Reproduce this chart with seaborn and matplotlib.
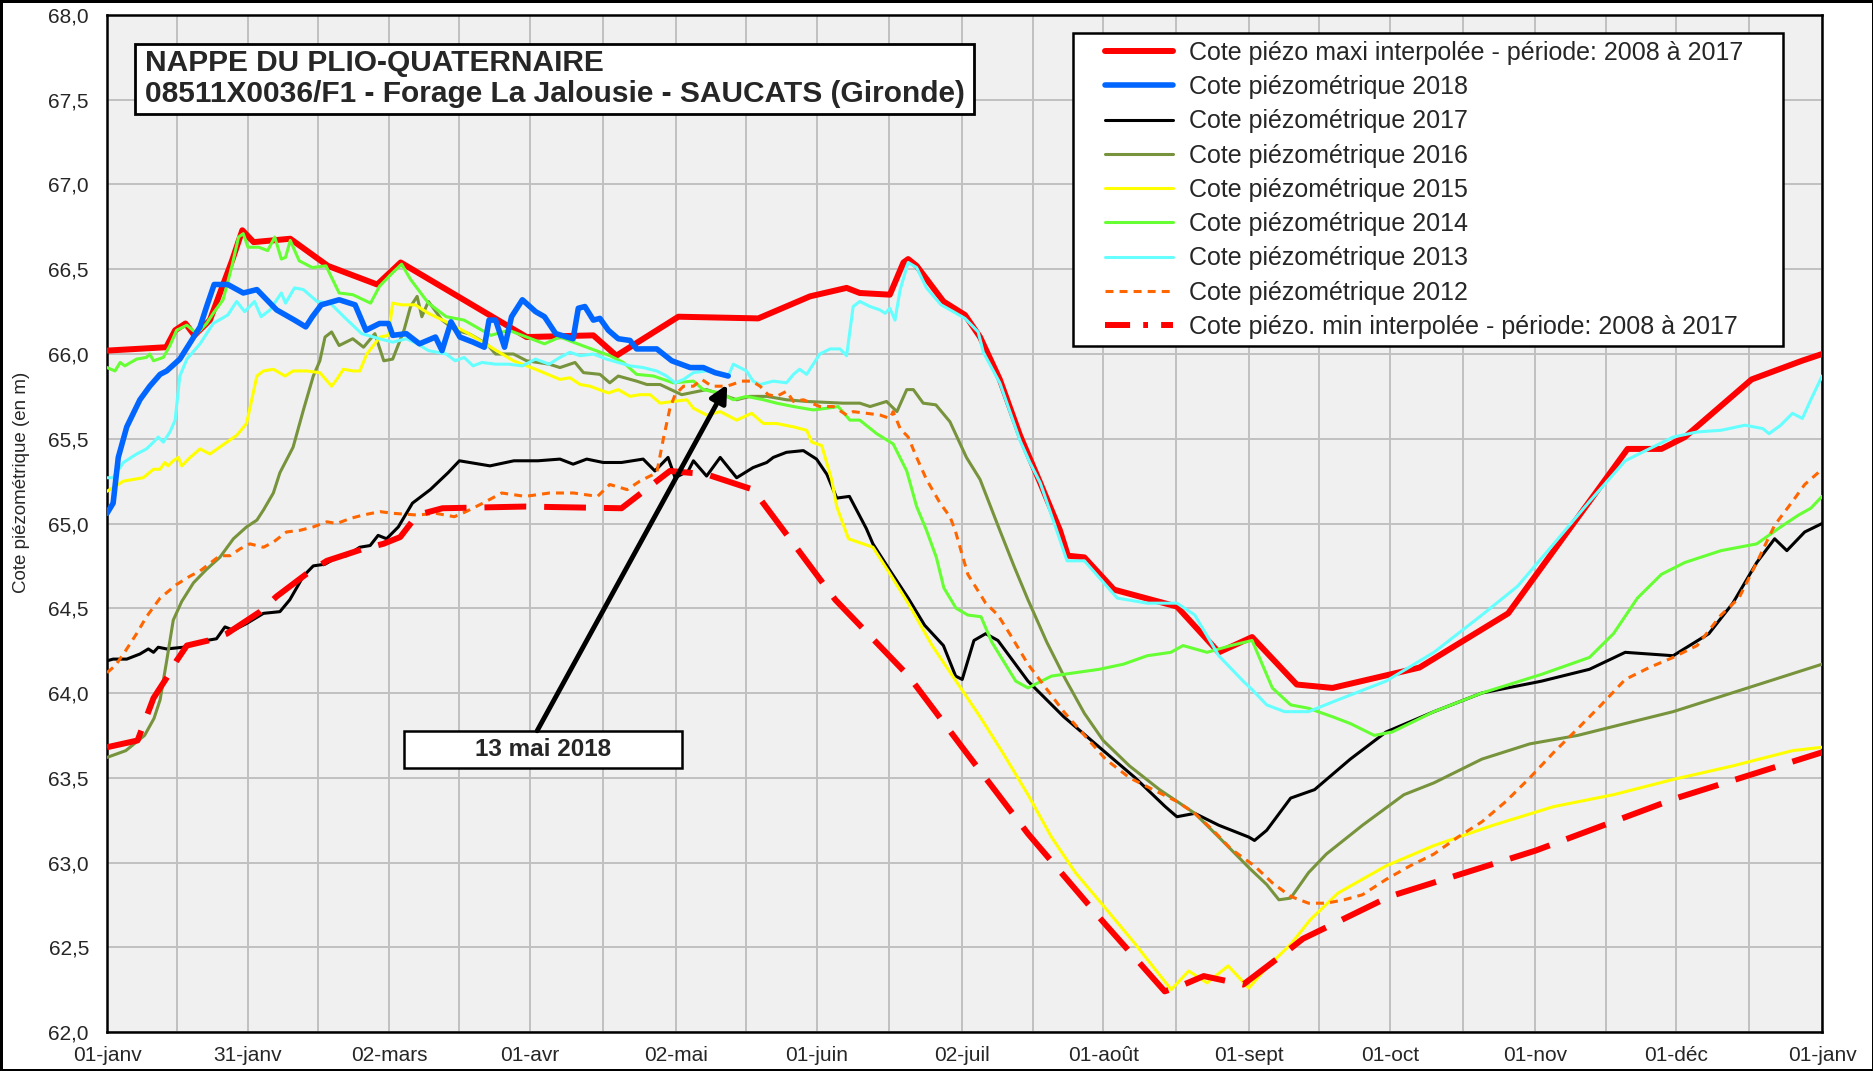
import matplotlib
matplotlib.use("Agg")
import matplotlib.pyplot as plt
from matplotlib.patches import Rectangle
from matplotlib.lines import Line2D
from matplotlib.legend_handler import HandlerLine2D
from matplotlib.ticker import FixedLocator, MultipleLocator, FuncFormatter
import seaborn as sns

# x = day of year (0 = 01-janv), y = cote piezometrique (m)
max_days = [0, 12.6, 14.5, 16.7, 18.6, 21.9, 26.6, 28.8, 31.2, 39, 47, 57.5, 62.5, 89.3, 103.5, 108.4,
            121.6, 138.6, 149.6, 157.4, 160.2, 166.6, 169.5, 170.5, 172.3, 178, 182.6, 185.8, 190,
            194.3, 198.6, 202.8, 204.5, 208, 214.3, 227.7, 236.6, 243.7, 253.2, 260.8, 279.3, 298.2,
            323.6, 330.8, 335.8, 350, 360.7, 365]
max_vals = [66.02, 66.04, 66.14, 66.18, 66.11, 66.20, 66.55, 66.73, 66.66, 66.68, 66.52, 66.41, 66.54,
            66.10, 66.11, 65.99, 66.22, 66.21, 66.34, 66.39, 66.36, 66.35, 66.54, 66.56, 66.52, 66.31,
            66.23, 66.10, 65.85, 65.52, 65.24, 64.96, 64.81, 64.80, 64.61, 64.51, 64.24, 64.33, 64.05,
            64.03, 64.15, 64.47, 65.44, 65.44, 65.51, 65.85, 65.96, 66.00]

y2018_days = [0, 1.3, 2.4, 4.2, 7, 9.1, 11.3, 12.7, 15.5, 18, 19.8, 21.2, 22.8, 25.7, 29, 31.9, 36.1,
              39.9, 42.3, 43.7, 45.6, 49.4, 52.8, 55.1, 58, 59.9, 60.8, 63.7, 66.5, 69.9, 71.3, 73.2,
              75.1, 77.9, 80.3, 81.3, 82.7, 84.6, 86.1, 88.4, 91.2, 93.1, 95.5, 99.2, 100.3, 101.7,
              103.5, 104.9, 106.7, 108.8, 111.3, 112.7, 117, 120.2, 124.1, 126.9, 129.4, 132.2]
y2018_vals = [65.06, 65.12, 65.39, 65.57, 65.73, 65.81, 65.88, 65.90, 65.97, 66.08, 66.16, 66.28, 66.41,
              66.41, 66.36, 66.38, 66.26, 66.20, 66.16, 66.22, 66.29, 66.32, 66.29, 66.14, 66.18, 66.18,
              66.11, 66.12, 66.06, 66.10, 66.02, 66.19, 66.10, 66.07, 66.04, 66.20, 66.20, 66.04, 66.22,
              66.32, 66.25, 66.22, 66.12, 66.09, 66.27, 66.28, 66.20, 66.21, 66.14, 66.09, 66.08, 66.03,
              66.03, 65.96, 65.92, 65.92, 65.89, 65.87]

y2017_days = [0, 1.3, 4.2, 7, 8.8, 9.9, 10.9, 12.7, 16.2, 21.2, 23.3, 25.1, 26.9, 29.7, 33.3, 36.8,
              38.9, 41.8, 43.9, 46.4, 48.9, 51, 53.8, 56, 57.7, 59.5, 62, 65, 68.8, 72.6, 75, 81.5,
              86.6, 91.7, 96.4, 99.2, 102.1, 105.6, 109.5, 114.1, 116.6, 119.4, 120.9, 123.7, 124.8,
              127.6, 130.5, 134, 137.5, 140.4, 141.8, 144.6, 148.2, 151, 153.2, 155.3, 158, 161.6, 163,
              166.7, 170.5, 174, 178, 180.6, 182, 184.5, 187, 189.6, 196, 203.6, 211.2, 218.8, 225.2,
              227.7, 231.5, 236.6, 243, 244.2, 246.8, 251.9, 257, 264.6, 272.2, 282.4, 292.6, 305.3,
              315.5, 323.1, 333.3, 340.9, 346, 351.1, 354.9, 357.5, 361.3, 365]
y2017_vals = [64.19, 64.20, 64.20, 64.23, 64.26, 64.24, 64.27, 64.26, 64.27, 64.31, 64.32, 64.39, 64.37,
              64.41, 64.47, 64.48, 64.55, 64.69, 64.75, 64.76, 64.80, 64.81, 64.86, 64.87, 64.93, 64.91,
              64.98, 65.12, 65.20, 65.30, 65.37, 65.34, 65.37, 65.37, 65.38, 65.35, 65.38, 65.36, 65.36,
              65.38, 65.31, 65.39, 65.27, 65.31, 65.37, 65.28, 65.39, 65.27, 65.33, 65.36, 65.39, 65.42,
              65.43, 65.38, 65.29, 65.15, 65.16, 64.97, 64.88, 64.72, 64.56, 64.40, 64.28, 64.10, 64.08,
              64.31, 64.35, 64.31, 64.07, 63.86, 63.68, 63.50, 63.33, 63.27, 63.29, 63.22, 63.15, 63.13,
              63.19, 63.38, 63.43, 63.61, 63.77, 63.89, 64.00, 64.07, 64.14, 64.24, 64.22, 64.35, 64.53,
              64.77, 64.91, 64.84, 64.95, 65.00]

y2016_days = [0, 4, 8, 10, 11.3, 12.7, 14.1, 15.9, 18.4, 21.2, 24, 26.9, 29.7, 31.9, 33.3, 35.4, 36.8,
              39.6, 41.8, 43.9, 45.3, 46.4, 47.8, 49.4, 52.3, 54.6, 57, 58.9, 60.8, 63.2, 64.6, 66, 67,
              68.4, 71.3, 74.1, 77, 80.8, 82.7, 86.5, 89.3, 94.1, 96.4, 99.6, 101.4, 104.9, 107, 108.8,
              112.7, 114.9, 117.7, 122.3, 127.6, 131.9, 134, 136.8, 140.4, 144.6, 148.9, 156.7, 160.2,
              162.4, 165.9, 168.1, 170.2, 171.6, 173.7, 176.4, 179.4, 182.9, 185.8, 190, 193, 196, 200,
              204, 208, 212, 217.6, 224, 231.5, 236.6, 243, 246.8, 249.4, 251.9, 255.7, 259.5, 267.2,
              276, 282.4, 292.6, 302.8, 313, 323.1, 333.3, 343.5, 353.7, 365]
y2016_vals = [63.62, 63.66, 63.75, 63.85, 63.96, 64.19, 64.43, 64.54, 64.65, 64.73, 64.80, 64.91, 64.98,
              65.02, 65.08, 65.18, 65.30, 65.45, 65.67, 65.87, 65.96, 66.10, 66.13, 66.05, 66.09, 66.04,
              66.12, 65.96, 65.97, 66.14, 66.28, 66.34, 66.22, 66.31, 66.20, 66.14, 66.12, 66.06, 66.00,
              66.00, 65.96, 65.94, 65.92, 65.95, 65.89, 65.88, 65.83, 65.87, 65.84, 65.82, 65.82, 65.76,
              65.79, 65.75, 65.73, 65.75, 65.75, 65.73, 65.72, 65.71, 65.71, 65.69, 65.72, 65.66, 65.79,
              65.79, 65.71, 65.70, 65.60, 65.39, 65.26, 64.96, 64.75, 64.55, 64.30, 64.08, 63.88, 63.72,
              63.57, 63.43, 63.29, 63.15, 62.97, 62.87, 62.78, 62.79, 62.94, 63.05, 63.22, 63.40, 63.47,
              63.61, 63.70, 63.75, 63.82, 63.89, 63.98, 64.07, 64.17]

y2015_days = [0, 3.5, 7.7, 9.9, 11.3, 12.3, 13, 14.1, 15.2, 15.9, 17.7, 19.8, 21.9, 25.5, 27.6, 29.7,
              31.9, 33.3, 35.4, 37.9, 39.6, 42.5, 45.3, 47.8, 48.9, 50.3, 52.4, 53.8, 55.3, 58.1, 59.9,
              60.8, 62.7, 65.6, 68.4, 72.2, 77, 81.7, 86.5, 91.2, 96.4, 98.5, 100.7, 102.8, 106.7, 108.8,
              111.3, 113.4, 115.6, 117.7, 120.5, 123.4, 124.8, 127.6, 130.5, 134, 137.2, 139.7, 142.5,
              146.1, 148.9, 150, 152.1, 154.2, 155.3, 157.8, 163, 166.7, 170.5, 175.6, 180.7, 185.8,
              190.8, 196, 201, 206.1, 212.5, 218.8, 223.9, 226.5, 230.2, 234.1, 238.6, 243, 246.8, 252,
              256, 262, 272.2, 282.4, 295, 307.9, 320.6, 333.3, 346, 358.7, 365]
y2015_vals = [65.19, 65.25, 65.27, 65.32, 65.32, 65.36, 65.34, 65.37, 65.39, 65.34, 65.39, 65.44, 65.41,
              65.48, 65.52, 65.59, 65.87, 65.90, 65.91, 65.87, 65.90, 65.90, 65.89, 65.81, 65.85, 65.91,
              65.90, 65.90, 66.00, 66.10, 66.11, 66.30, 66.29, 66.29, 66.24, 66.19, 66.12, 66.04, 65.96,
              65.91, 65.85, 65.86, 65.82, 65.81, 65.77, 65.79, 65.75, 65.76, 65.76, 65.71, 65.72, 65.73,
              65.68, 65.64, 65.66, 65.61, 65.65, 65.59, 65.59, 65.57, 65.55, 65.48, 65.46, 65.26, 65.10,
              64.91, 64.86, 64.70, 64.53, 64.28, 64.07, 63.86, 63.64, 63.40, 63.15, 62.94, 62.73, 62.52,
              62.34, 62.25, 62.36, 62.29, 62.39, 62.26, 62.38, 62.52, 62.66, 62.82, 62.98, 63.10, 63.22,
              63.33, 63.40, 63.49, 63.57, 63.66, 63.68]

y2014_days = [0, 1.7, 2.8, 3.8, 6.3, 8.4, 9.1, 9.9, 12, 13.4, 14.8, 17, 19.1, 21.2, 22.6, 24.7, 26.6,
              28, 29, 30, 32.3, 34.2, 35.7, 37.1, 38, 39, 40.9, 43.7, 46.6, 49.4, 52.3, 56.1, 58, 60.8,
              62.7, 64.6, 68.4, 72.2, 76, 81.7, 85.5, 89.3, 93.1, 96.4, 99.2, 102.1, 107, 109.9, 112.7,
              116.3, 120.5, 124.8, 126.9, 130.5, 133.3, 136.1, 139.7, 142.5, 146.1, 150.3, 153.2, 155.6,
              158.1, 160.2, 163.8, 167.3, 170.2, 172.3, 174.4, 176.5, 178.1, 180.7, 183.2, 186, 188.3,
              193.4, 196, 201, 206.1, 211.2, 216.3, 221.4, 226.4, 229, 234.1, 239.2, 243.7, 248, 251.9,
              255.7, 260.8, 264.6, 269.7, 273.5, 282.4, 292.6, 305.3, 315.5, 320.6, 325.7, 330.8, 335.8,
              343.5, 351.1, 356.2, 360, 362.6, 365]
y2014_vals = [65.92, 65.90, 65.95, 65.93, 65.97, 65.98, 66.00, 65.96, 65.98, 66.05, 66.14, 66.17, 66.12,
              66.18, 66.24, 66.32, 66.52, 66.69, 66.71, 66.63, 66.63, 66.61, 66.69, 66.56, 66.57, 66.67,
              66.55, 66.51, 66.52, 66.36, 66.35, 66.30, 66.40, 66.48, 66.53, 66.44, 66.30, 66.22, 66.20,
              66.11, 66.14, 66.10, 66.06, 66.10, 66.07, 66.04, 65.99, 65.95, 65.88, 65.87, 65.83, 65.84,
              65.79, 65.77, 65.73, 65.75, 65.73, 65.71, 65.69, 65.67, 65.68, 65.69, 65.61, 65.61, 65.53,
              65.47, 65.31, 65.10, 64.96, 64.80, 64.62, 64.50, 64.46, 64.45, 64.30, 64.07, 64.03, 64.10,
              64.12, 64.14, 64.17, 64.22, 64.24, 64.28, 64.24, 64.28, 64.31, 64.03, 63.93, 63.91, 63.86,
              63.82, 63.75, 63.77, 63.89, 64.00, 64.11, 64.21, 64.35, 64.56, 64.70, 64.77, 64.84, 64.88,
              64.98, 65.05, 65.09, 65.16]

y2013_days = [0, 1.3, 3.5, 6.3, 8.4, 9.9, 10.9, 12, 13.4, 14.5, 15.5, 17, 19.8, 22.6, 25.7, 27.6, 29.3,
              31.4, 32.8, 34.7, 37.1, 38, 39.9, 41.8, 44.7, 47.5, 50.4, 54.2, 58, 60.8, 63.7, 66.1, 68.4,
              72.2, 74.1, 76, 77.9, 79.8, 82.7, 85.5, 88.4, 91.2, 94.1, 96.4, 98.5, 100.7, 103.5, 106.3,
              108.8, 111.3, 114.1, 117, 119.1, 120.9, 122.7, 124.8, 127.6, 130.5, 132.2, 133.3, 134.7,
              136.1, 137.5, 139, 141.8, 144.6, 146.1, 147.4, 148.9, 151.7, 153.9, 156, 157.4, 158.8,
              160.2, 162.4, 164.5, 165.6, 166.6, 167.7, 168.8, 170.5, 172.3, 174.4, 177.5, 180.1, 182.6,
              185.4, 186.5, 190, 194.3, 196.4, 198.6, 202.1, 204.3, 208, 215, 221.4, 227.7, 231.5, 236.6,
              241.8, 243.7, 246.8, 250.6, 255.7, 262, 272.2, 282.4, 292.6, 300.2, 307.9, 315.5, 323.1,
              328.2, 333.3, 338.4, 343.5, 348.6, 352.4, 353.7, 356.2, 358.7, 360.8, 362.6, 365]
y2013_vals = [65.27, 65.27, 65.36, 65.41, 65.44, 65.48, 65.51, 65.48, 65.54, 65.61, 65.87, 65.97, 66.06,
              66.18, 66.23, 66.31, 66.25, 66.31, 66.22, 66.26, 66.36, 66.30, 66.39, 66.38, 66.31, 66.30,
              66.22, 66.12, 66.09, 66.07, 66.09, 66.06, 66.02, 66.00, 65.96, 65.98, 65.93, 65.95, 65.94,
              65.94, 65.93, 65.97, 65.94, 65.98, 66.01, 65.99, 66.00, 65.97, 65.95, 65.93, 65.92, 65.90,
              65.87, 65.83, 65.85, 65.89, 65.90, 65.88, 65.87, 65.94, 65.92, 65.90, 65.84, 65.82, 65.84,
              65.83, 65.88, 65.91, 65.88, 66.00, 66.03, 66.03, 65.99, 66.28, 66.31, 66.28, 66.26, 66.24,
              66.27, 66.20, 66.38, 66.54, 66.51, 66.39, 66.29, 66.25, 66.21, 66.13, 66.01, 65.83, 65.49,
              65.36, 65.24, 64.96, 64.78, 64.78, 64.56, 64.53, 64.53, 64.46, 64.22, 64.07, 64.02, 63.93,
              63.89, 63.89, 63.96, 64.07, 64.24, 64.46, 64.63, 64.88, 65.13, 65.37, 65.44, 65.51, 65.54,
              65.55, 65.58, 65.56, 65.53, 65.58, 65.65, 65.62, 65.73, 65.87]

y2012_days = [0, 1.7, 3.5, 6.3, 8.4, 11.3, 14.8, 17.7, 19.8, 21.2, 24, 26.2, 28.3, 30.4, 33.3, 35.4,
              38.2, 41.1, 43.9, 46.8, 48.9, 51.8, 54.5, 58.1, 60.9, 66, 70, 73.9, 76.4, 80, 84, 89, 94.2,
              99.3, 104.4, 107, 110.7, 113.4, 117, 118.4, 119.8, 120.9, 122.7, 124.8, 126.6, 128.7, 131.9,
              133, 135.1, 137.2, 139, 140.7, 142.5, 144.6, 146.1, 148.2, 151.7, 154.6, 157.4, 158.8,
              161.7, 164.5, 166.6, 167.3, 168.8, 170.5, 172.3, 174.4, 177.3, 179.4, 180.5, 183.2, 187,
              189.6, 192.1, 196, 199.8, 203.6, 207.4, 212.5, 217.6, 222.6, 227.7, 231.5, 235.4, 239.2,
              244.2, 248, 251.9, 255.7, 259.5, 263.3, 267.2, 272.2, 277.3, 282.4, 287.5, 292.6, 297.7,
              302.8, 307.9, 313, 318, 323.1, 328.2, 333.3, 338.4, 343.5, 347.3, 351.1, 354.9, 358.7,
              361.3, 365]
y2012_vals = [64.12, 64.16, 64.23, 64.35, 64.45, 64.56, 64.64, 64.69, 64.72, 64.75, 64.81, 64.81, 64.85,
              64.88, 64.86, 64.89, 64.95, 64.96, 64.98, 65.01, 65.00, 65.03, 65.05, 65.07, 65.06, 65.05,
              65.06, 65.04, 65.07, 65.12, 65.18, 65.16, 65.18, 65.18, 65.16, 65.23, 65.20, 65.25, 65.30,
              65.50, 65.68, 65.76, 65.81, 65.81, 65.85, 65.81, 65.81, 65.82, 65.84, 65.84, 65.81, 65.76,
              65.75, 65.78, 65.72, 65.73, 65.69, 65.69, 65.64, 65.66, 65.65, 65.64, 65.62, 65.66, 65.56,
              65.51, 65.39, 65.26, 65.12, 65.04, 64.96, 64.70, 64.53, 64.46, 64.35, 64.17, 64.03, 63.89,
              63.77, 63.61, 63.50, 63.43, 63.36, 63.29, 63.19, 63.08, 62.98, 62.88, 62.80, 62.76, 62.76,
              62.78, 62.81, 62.90, 62.98, 63.05, 63.15, 63.24, 63.36, 63.50, 63.65, 63.79, 63.93, 64.08,
              64.15, 64.21, 64.28, 64.46, 64.56, 64.77, 64.99, 65.13, 65.23, 65.32]

min_days = [0, 6.5, 9.9, 12.7, 14.8, 17, 21.6, 25.5, 32.6, 36.1, 42.8, 46.8, 54.5, 58.8, 62.4, 66, 71.4,
            89, 109.5, 119.8, 127.6, 137.5, 155, 170.6, 182, 196, 212, 225.1, 228.3, 233.4, 241.8,
            251.3, 254.5, 273, 304, 334, 365]
min_vals = [63.68, 63.72, 63.97, 64.09, 64.19, 64.28, 64.31, 64.35, 64.48, 64.57, 64.71, 64.78, 64.85,
            64.88, 64.92, 65.05, 65.09, 65.10, 65.09, 65.31, 65.29, 65.20, 64.55, 64.10, 63.68, 63.17,
            62.65, 62.24, 62.27, 62.33, 62.28, 62.48, 62.55, 62.80, 63.07, 63.38, 63.65]

tick_days = [0, 30, 60, 90, 121, 151, 182, 212, 243, 273, 304, 334, 365]
tick_labels = ['01-janv', '31-janv', '02-mars', '01-avr', '02-mai', '01-juin', '02-juil',
               '01-août', '01-sept', '01-oct', '01-nov', '01-déc', '01-janv']

labels = ['Cote piézo maxi interpolée - période: 2008 à 2017',
          'Cote piézométrique 2018', 'Cote piézométrique 2017', 'Cote piézométrique 2016',
          'Cote piézométrique 2015', 'Cote piézométrique 2014', 'Cote piézométrique 2013',
          'Cote piézométrique 2012',
          'Cote piézo. min interpolée - période: 2008 à 2017']


class ShiftedLine(HandlerLine2D):
    # legend sample starts a bit right of the box edge, like the original
    def get_xdata(self, legend, xdescent, ydescent, width, height, fontsize):
        xdata, xm = super().get_xdata(legend, xdescent, ydescent, width, height, fontsize)
        x0 = -xdescent
        shift = 0.27 * width
        xdata = [x0 + shift + (x - x0) * (width - shift) / width for x in xdata]
        return xdata, xm


sns.set_style("white")
plt.rcParams['font.family'] = ['Liberation Sans', 'DejaVu Sans']

fig = plt.figure(figsize=(18.74, 10.71), dpi=100)
fig.patch.set_edgecolor('black')
fig.patch.set_linewidth(2.5)
ax = fig.add_axes([0.0571, 0.0364, 0.9152, 0.9496])
ax.set_facecolor('#F0F0F0')

series = [
    (max_days, max_vals, '#FF0000', 4.3, '-'),
    (y2017_days, y2017_vals, 'black', 2.2, '-'),
    (y2016_days, y2016_vals, '#77933C', 2.2, '-'),
    (y2015_days, y2015_vals, '#FFFF00', 2.2, '-'),
    (y2014_days, y2014_vals, '#66FF33', 2.2, '-'),
    (y2013_days, y2013_vals, '#66FFFF', 2.2, '-'),
    (y2012_days, y2012_vals, '#FF6600', 2.2, (0, (2.6, 2.0))),
    (min_days, min_vals, '#FF0000', 4.3, (0, (7, 3))),
    (y2018_days, y2018_vals, '#0066FF', 4.0, '-'),
]
label_of = {0: labels[0], 8: labels[1], 1: labels[2], 2: labels[3], 3: labels[4],
            4: labels[5], 5: labels[6], 6: labels[7], 7: labels[8]}

for i, (d, v, c, lw, ls) in enumerate(series):
    sns.lineplot(x=d, y=v, ax=ax, color=c, linewidth=lw, linestyle=ls,
                 label=label_of[i], zorder=3 + i, estimator=None)

ax.set_xlim(0, 365)
ax.set_ylim(62, 68)

ax.xaxis.set_major_locator(FixedLocator(tick_days))
ax.set_xticklabels(tick_labels)
ax.xaxis.set_minor_locator(FixedLocator([(tick_days[i] + tick_days[i + 1]) / 2 for i in range(12)]))
ax.yaxis.set_major_locator(MultipleLocator(0.5))
ax.yaxis.set_minor_locator(MultipleLocator(0.1))
ax.yaxis.set_major_formatter(FuncFormatter(lambda v, p: f"{v:.1f}".replace('.', ',')))

ax.grid(True, which='major', axis='both', color='#C0C0C0', linewidth=1.4, zorder=0)
ax.grid(True, which='minor', axis='x', color='#C0C0C0', linewidth=1.4, zorder=0)
ax.set_axisbelow(True)

ax.tick_params(axis='x', which='both', direction='out', length=5, width=1.5, labelsize=15, pad=5)
ax.tick_params(axis='y', which='major', direction='out', length=5, width=1.5, labelsize=15, pad=8)
ax.tick_params(axis='y', which='minor', direction='in', length=4, width=1.2)
for s in ax.spines.values():
    s.set_color('black')
    s.set_linewidth(1.8)

ax.set_xlabel('')
ax.set_ylabel('Cote piézométrique (en m)', fontsize=13.5)
ax.yaxis.set_label_coords(-0.045, 0.54)

# title box
ax.add_patch(Rectangle((0.0163, 0.9027), 0.4892, 0.0688, transform=ax.transAxes,
                       fc='white', ec='black', lw=2, zorder=20))
ax.text(0.0222, 0.9375, 'NAPPE DU PLIO-QUATERNAIRE\n08511X0036/F1 - Forage La Jalousie - SAUCATS (Gironde)',
        transform=ax.transAxes, ha='left', va='center', fontsize=21.5, fontweight='bold',
        linespacing=1.17, zorder=21)

# annotation box + arrow
ax.add_patch(Rectangle((0.1732, 0.2596), 0.1621, 0.0364, transform=ax.transAxes,
                       fc='white', ec='black', lw=1.8, zorder=20))
ax.text(0.2542, 0.2778, '13 mai 2018', transform=ax.transAxes, ha='center', va='center',
        fontsize=17.5, fontweight='bold', zorder=21)
ax.annotate('', xy=(132, 65.82), xycoords='data', xytext=(0.2508, 0.2962), textcoords='axes fraction',
            arrowprops=dict(arrowstyle='-|>', color='black', lw=3.5, mutation_scale=26,
                            shrinkA=0, shrinkB=0), zorder=22)

handles, hl = ax.get_legend_handles_labels()
hmap = dict(zip(hl, handles))
# legend shows the min line as dash-dot
hmap[labels[8]] = Line2D([0], [0], color='#FF0000', lw=4.3, linestyle=(0, (4.2, 2.2, 0.8, 2.2)))
leg = ax.legend([hmap[l] for l in labels], labels, loc='upper left',
                bbox_to_anchor=(0.563, 0.674, 0.414, 0.308), mode='expand',
                fontsize=18, frameon=True, fancybox=False, edgecolor='black', framealpha=1,
                handlelength=3.7, handletextpad=0.65, labelspacing=0.41, borderpad=0.3,
                borderaxespad=0, handler_map={Line2D: ShiftedLine()})
leg.get_frame().set_linewidth(1.8)
leg.set_zorder(30)

fig.savefig('out.png', dpi=100)
